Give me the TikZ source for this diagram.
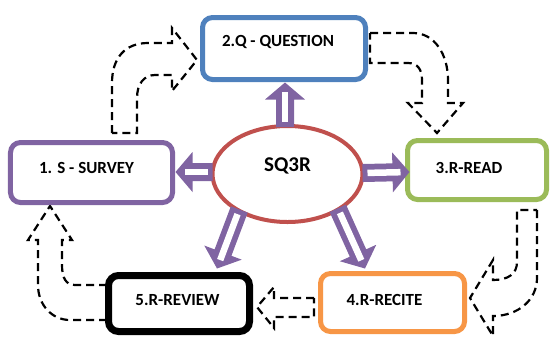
\documentclass[tikz,border=0pt]{standalone}
\usepackage{fontspec}
\setmainfont{Carlito}
\usetikzlibrary{calc,shapes.geometric}
\definecolor{qblue}{HTML}{4F81BD}
\definecolor{spurple}{HTML}{8064A2}
\definecolor{rgreen}{HTML}{9BBB59}
\definecolor{corange}{HTML}{F79646}
\definecolor{ered}{HTML}{C0504D}
\newcommand\blockarrow[2]{%
  \coordinate (hb) at ($(#2)!17bp!(#1)$);
  \fill[spurple] ($(#1)!9bp!90:(#2)$) -- ($(hb)!9bp!90:(#2)$) -- ($(hb)!20bp!90:(#2)$) -- (#2)
    -- ($(hb)!20bp!-90:(#2)$) -- ($(hb)!9bp!-90:(#2)$) -- ($(#1)!9bp!-90:(#2)$) -- cycle;
  \draw[white, line width=6.5bp] ($(#1)!5bp!(#2)$) -- ($(#2)!9bp!(#1)$);}
\begin{document}
\begin{tikzpicture}[x=1bp,y=-1bp,
  box/.style={draw, line width=5bp, rounded corners=10bp, fill=white, inner sep=0pt},
  dasharrow/.style={draw=black, line width=2.2bp, dash pattern=on 8bp off 5bp, line join=miter},
  lbl/.style={font=\bfseries\fontsize{17bp}{20bp}\selectfont, inner sep=0pt}]
\useasboundingbox (0,0) rectangle (551,336);
\clip (0,0) rectangle (551,336);
% dashed curved arrows
\draw[dasharrow] (112,133) -- (112,83) .. controls (112,58) and (125,43) .. (148,43) -- (172,43) -- (172,28)
  -- (197,60) -- (172,91) -- (172,75) -- (155,75) .. controls (144,75) and (137,84) .. (137,98) -- (137,133) -- cycle;
\draw[dasharrow] (370,33) -- (413,33) .. controls (435,33) and (448,55) .. (448,80) -- (448,103) -- (463,103)
  -- (437,133) -- (408,103) -- (422,103) -- (422,80) .. controls (422,70) and (418,63) .. (408,63) -- (370,63) -- cycle;
\draw[dasharrow] (537,210) -- (537,278) .. controls (537,300) and (518,316) .. (493,316) -- (493,336)
  -- (470,298) -- (493,260) -- (493,280) .. controls (508,280) and (517,274) .. (517,262) -- (517,210) -- cycle;
\draw[dasharrow] (314,298) -- (274,298) -- (274,287) -- (257,307) -- (274,328) -- (274,317) -- (314,317) -- cycle;
\draw[dasharrow] (107,285) -- (75,285) .. controls (66,285) and (62,278) .. (62,265) -- (62,240) -- (72,240)
  -- (50,206) -- (28,240) -- (38,240) -- (38,285) .. controls (38,305) and (52,320) .. (70,320) -- (107,320) -- cycle;
% boxes
\node[box, draw=qblue, minimum width=163bp, minimum height=62bp] (q) at (284,48.5) {};
\node[box, draw=spurple, minimum width=162bp, minimum height=60bp] (sv) at (91.5,172.5) {};
\node[box, draw=rgreen, minimum width=139bp, minimum height=59bp] (rd) at (477,170) {};
\node[box, draw=corange, minimum width=144bp, minimum height=58bp] (rc) at (392.5,302.5) {};
\node[box, draw=black, line width=7bp, minimum width=141bp, minimum height=56bp] (rv) at (179,303.5) {};
\node[lbl] (tq) at (278,42) {2.Q - QUESTION};
\node[lbl] (tsv) at (86.5,168) {1. S - SURVEY};
\node[lbl] (trd) at (469,168) {3.R-READ};
\node[lbl] (trc) at (384.5,300) {4.R-RECITE};
\node[lbl] (trv) at (177.5,300) {5.R-REVIEW};
% centre ellipse
\node[ellipse, draw=ered, line width=4bp, fill=white, minimum width=150bp, minimum height=96bp, inner sep=0pt] (c) at (287.5,174) {};
\node[lbl, font=\bfseries\fontsize{21bp}{24bp}\selectfont] (tc) at (287.5,166) {SQ3R};
% block arrows
\coordinate (s1) at ($(c.north)+(-2.5,3)$);
\coordinate (e1) at ($(s1 |- q.south)+(0,0.5)$);
\coordinate (s2) at ($(c.east)+(-2,-1)$);
\coordinate (e2) at ($(rd.west |- s2)+(4.5,-1)$);
\coordinate (s3) at ($(c.west)+(2,-2)$);
\coordinate (e3) at ($(sv.east |- s3)+(0.5,0)$);
\coordinate (s4) at ($(c.218)+(1,-3)$);
\coordinate (e4) at ($(rv.north)+(38,-3.5)$);
\coordinate (s5) at ($(c.-36)+(-1,-3)$);
\coordinate (e5) at ($(rc.north)+(-27.5,-2.5)$);
\blockarrow{s1}{e1}
\blockarrow{s2}{e2}
\blockarrow{s3}{e3}
\blockarrow{s4}{e4}
\blockarrow{s5}{e5}
\end{tikzpicture}
\end{document}
